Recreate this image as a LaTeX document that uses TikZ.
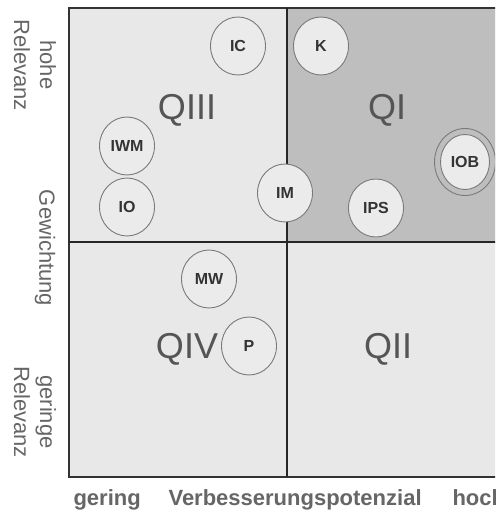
\documentclass[tikz,border=0pt]{standalone}
\usepackage{fontspec}
\setmainfont{Liberation Sans}
\usetikzlibrary{shapes.geometric}
\definecolor{lightq}{HTML}{E8E8E8}
\definecolor{darkq}{HTML}{BEBEBE}
\definecolor{circfill}{HTML}{EBEBEB}
\definecolor{circline}{HTML}{7A7A7A}
\definecolor{framec}{HTML}{333333}
\definecolor{qtext}{HTML}{555555}
\definecolor{axtext}{HTML}{666666}
\definecolor{ctext}{HTML}{333333}
\begin{document}
\begin{tikzpicture}[x=1pt,y=-1pt,
 item/.style={ellipse, draw=circline, fill=circfill, line width=0.9pt, minimum width=55pt, minimum height=58pt, inner sep=0pt, text=ctext, font=\fontsize{16}{18}\selectfont\bfseries},
 quadlabel/.style={anchor=base, text=qtext, font=\fontsize{36}{40}\selectfont},
 sidelabel/.style={rotate=-90, align=center, text=axtext, font=\fontsize{22}{26}\selectfont},
 bottomlabel/.style={anchor=base west, text=axtext, font=\fontsize{22}{26}\selectfont\bfseries},
 framestyle/.style={draw=framec, line width=1.6pt},
 divider/.style={draw=black!85, line width=1.3pt}
]
\useasboundingbox (0,0) rectangle (495,510);
\clip (0,0) rectangle (495,510);
\fill[white] (0,0) rectangle (495,510);
% quadrants
\fill[lightq] (69,8) rectangle (520,477);
\fill[darkq] (287,8) rectangle (520,242);
\coordinate (tr) at (520,8);
\coordinate (tl) at (69,8);
\coordinate (bl) at (69,477);
\coordinate (br) at (520,477);
\coordinate (vt) at (287,8);
\coordinate (vb) at (287,477);
\coordinate (hl) at (69,242);
\coordinate (hr) at (520,242);
\draw[framestyle] (tr) -- (tl) -- (bl) -- (br);
\draw[divider] (vt) -- (vb);
\draw[divider] (hl) -- (hr);
% quadrant labels
\node[quadlabel] (q3) at (187,120) {QIII};
\node[quadlabel] (q1) at (387,120) {QI};
\node[quadlabel] (q4) at (187,358) {QIV};
\node[quadlabel] (q2) at (388,358) {QII};
% items
\node[item] (IC) at (238,46) {IC};
\node[item] (IWM) at (127,146) {IWM};
\node[item] (IO) at (127,207) {IO};
\node[item] (IM) at (285,193) {IM};
\node[item] (K) at (321,46) {K};
\node[item] (IPS) at (376,208) {IPS};
\node[ellipse, draw=circline, line width=0.9pt, minimum width=61pt, minimum height=67pt, inner sep=0pt] (IOBring) at (465,162) {};
\node[item, minimum width=49pt, minimum height=55pt] (IOB) at (465,162) {IOB};
\node[item] (MW) at (209,279) {MW};
\node[item] (P) at (249,346) {P};
% axis labels
\node[sidelabel] (hohe) at (35,65) {hohe\\Relevanz};
\node[sidelabel] (gew) at (45,248) {Gewichtung};
\node[sidelabel] (ger) at (35,412) {geringe\\Relevanz};
\node[bottomlabel] (lo) at (70,505) {gering};
\node[bottomlabel] (vp) at (165,505) {Verbesserungspotenzial};
\node[bottomlabel] (hi) at (449,505) {hoch};
\end{tikzpicture}
\end{document}
